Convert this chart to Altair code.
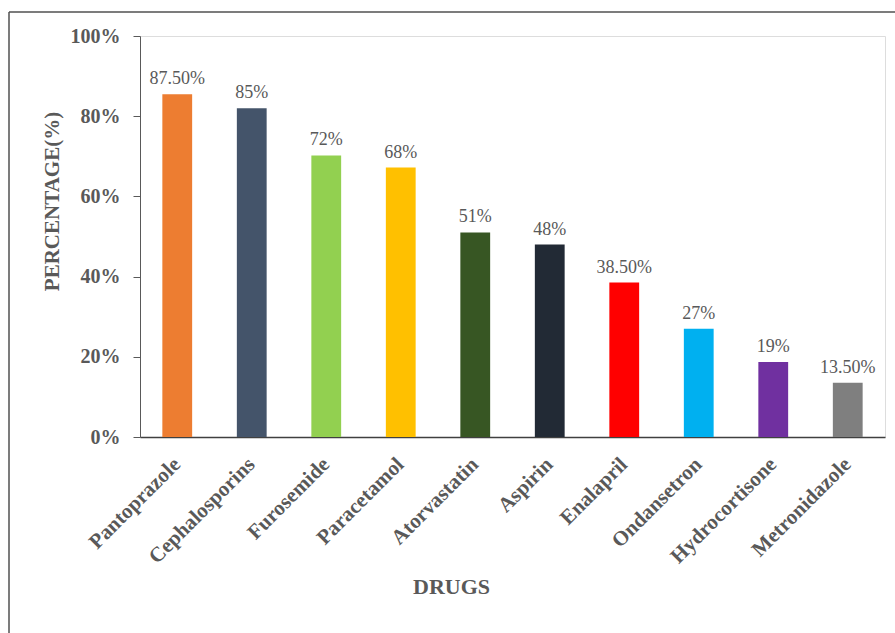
import altair as alt
import pandas as pd

drugs = ["Pantoprazole", "Cephalosporins", "Furosemide", "Paracetamol", "Atorvastatin",
         "Aspirin", "Enalapril", "Ondansetron", "Hydrocortisone", "Metronidazole"]
bar_values = [85.5, 82.0, 70.2, 67.2, 51.0, 48.0, 38.5, 27.0, 18.7, 13.5]
labels = ["87.50%", "85%", "72%", "68%", "51%", "48%", "38.50%", "27%", "19%", "13.50%"]
colors = ["#ED7D31", "#44546A", "#92D050", "#FFC000", "#375623",
          "#222A35", "#FF0000", "#00B0F0", "#7030A0", "#7F7F7F"]
y_ticks = [0, 20, 40, 60, 80, 100]

df = pd.DataFrame({"drug": drugs, "value": bar_values, "label": labels})

FONT = "Liberation Serif"
GRAY = "#595959"

x_enc = alt.X("drug:N", sort=drugs,
              scale=alt.Scale(paddingInner=0.6, paddingOuter=0.3),
              axis=alt.Axis(title="DRUGS", labelAngle=-45, labelAlign="right",
                            labelBaseline="middle", labelPadding=24, ticks=False,
                            labelFont=FONT, labelFontSize=21, labelFontWeight="bold",
                            labelColor=GRAY, titleFont=FONT, titleFontSize=22,
                            titleFontWeight="bold", titleColor=GRAY,
                            titleX=311, titleY=149, titleAlign="center",
                            titleBaseline="middle", domainColor="#404040",
                            domainWidth=1.5))
y_enc = alt.Y("value:Q", scale=alt.Scale(domain=[0, 100]),
              axis=alt.Axis(title="PERCENTAGE(%)", values=y_ticks,
                            labelExpr="datum.value + '%'", grid=False,
                            tickSize=7, tickColor=GRAY, domainColor=GRAY,
                            labelPadding=13, labelFont=FONT, labelFontSize=20,
                            labelFontWeight="bold", labelColor=GRAY,
                            titleFont=FONT, titleFontSize=21, titleFontWeight="bold",
                            titleColor=GRAY, titleX=-88, titleY=165,
                            titleAlign="center", titleBaseline="middle",
                            titleAngle=-90))

bars = alt.Chart(df).mark_bar().encode(
    x=x_enc, y=y_enc,
    color=alt.Color("drug:N", sort=drugs,
                    scale=alt.Scale(domain=drugs, range=colors), legend=None),
)

text = alt.Chart(df).mark_text(font=FONT, fontSize=18, color=GRAY,
                               baseline="alphabetic", dy=-10).encode(
    x=alt.X("drug:N", sort=drugs), y="value:Q", text="label:N")

frame_data = alt.Data(values=[{"k": 1}])
left_border = alt.Chart(frame_data).mark_rule(color="#505050", strokeWidth=1.5).encode(
    x=alt.value(-131), y=alt.value(-24), y2=alt.value(640))
top_border = alt.Chart(frame_data).mark_rule(color="#505050", strokeWidth=1.5).encode(
    y=alt.value(-24), x=alt.value(-131), x2=alt.value(800))

chart = alt.layer(bars, text, left_border, top_border).properties(
    width=745, height=401,
    autosize=alt.AutoSizeParams(type="none"),
    padding={"left": 140, "top": 36, "right": 10, "bottom": 196},
).configure_view(stroke=None).configure(background="white")

chart.save("out.html", embed_options={"renderer": "svg", "actions": False})
